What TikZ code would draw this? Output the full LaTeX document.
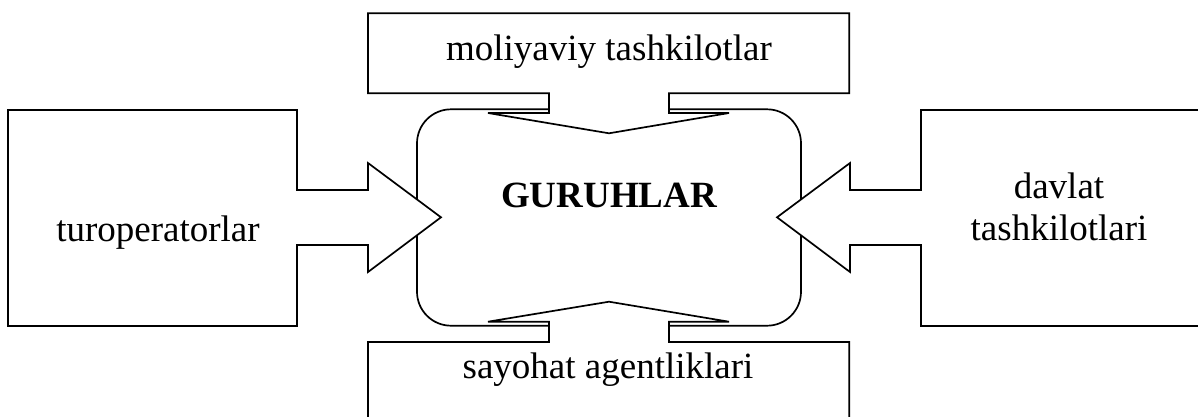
\documentclass[tikz,border=0pt]{standalone}
\usepackage{fontspec}
\setmainfont{Liberation Serif}
\begin{document}
\begin{tikzpicture}[x=1pt,y=-1pt,
  outline/.style={draw=black,line width=1.7pt,fill=white,line join=miter},
  lbl/.style={font=\fontsize{37}{42}\selectfont,inner sep=0pt,anchor=base}]
\useasboundingbox (0,0) rectangle (1198,416);
\clip (0,0) rectangle (1198,416);
% central rounded rectangle
\draw[outline,rounded corners=34pt] (417,109.3) rectangle (801,325.7);
% left box with arrow
\draw[outline] (8,110) -- (297,110) -- (297,190) -- (368,190) -- (368,163)
  -- (441,217.3) -- (368,272) -- (368,245) -- (297,245) -- (297,326) -- (8,326) -- cycle;
% right box with arrow
\draw[outline] (1215,110) -- (921,110) -- (921,190) -- (850,190) -- (850,163)
  -- (777,217.3) -- (850,272) -- (850,245) -- (921,245) -- (921,326) -- (1215,326);
% top box with arrow
\draw[outline] (368,13.3) -- (849.3,13.3) -- (849.3,93.3) -- (669,93.3) -- (669,113)
  -- (729,113) -- (609,133.3) -- (488,113) -- (549,113) -- (549,93.3) -- (368,93.3) -- cycle;
% bottom box with arrow
\draw[outline] (368,430) -- (368,342) -- (549,342) -- (549,321.7) -- (488,321.7)
  -- (609,301.7) -- (729,321.7) -- (669,321.7) -- (669,342) -- (849.3,342) -- (849.3,430);
% labels
\node[lbl] (moliya) at (609,60) {moliyaviy tashkilotlar};
\node[lbl,font=\fontsize{37}{42}\selectfont\bfseries] (guruh) at (609,207.3) {GURUHLAR};
\node[lbl] (turop) at (158,241) {turoperatorlar};
\node[lbl] (davlat) at (1059,198) {davlat};
\node[lbl] (tashk) at (1059,240) {tashkilotlari};
\node[lbl] (sayoh) at (608,378) {sayohat agentliklari};
\end{tikzpicture}
\end{document}
